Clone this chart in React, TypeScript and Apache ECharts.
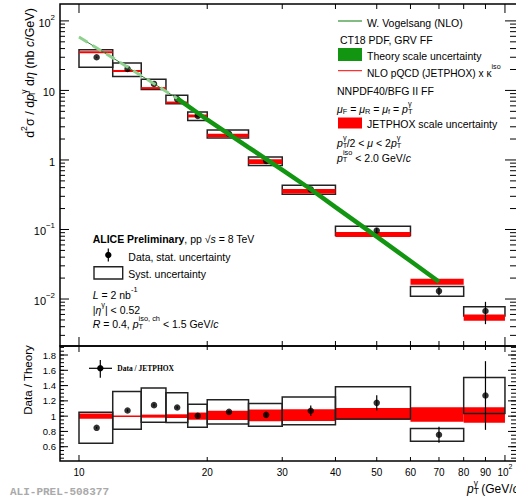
import React, { useEffect, useRef } from "react";
import * as echarts from "echarts";

// ---------- data ----------
const binLow = [10, 12, 14, 16, 18, 20, 25, 30, 40, 60, 80];
const binHigh = [12, 14, 16, 18, 20, 25, 30, 40, 60, 80, 100];
const binCenter = [11, 13, 15, 17, 19, 22.5, 27.5, 35, 50, 70, 90];
const dataValues = [30, 20.4, 12.4, 7.5, 4.31, 2.38, 0.97, 0.377, 0.0968, 0.013, 0.00673];
const statRelErr = [0.015, 0.015, 0.015, 0.015, 0.015, 0.02, 0.03, 0.064, 0.085, 0.139, 0.354];
const sysRelTop = [0.28, 0.22, 0.17, 0.14, 0.14, 0.13, 0.14, 0.15, 0.15, 0.16, 0.15];
const jetphoxValues = [35.3, 19.1, 10.8, 6.7, 4.3, 2.25, 0.95, 0.356, 0.085, 0.0178, 0.00542];
const jetphoxRelErr = [0.033, 0.01, 0.02, 0.024, 0.047, 0.06, 0.078, 0.078, 0.08, 0.096, 0.103];
const ratioValues = [0.847, 1.074, 1.144, 1.113, 1.004, 1.056, 1.017, 1.07, 1.174, 0.756, 1.27];
const sysRelRatio = [0.24, 0.23, 0.195, 0.175, 0.15, 0.15, 0.146, 0.17, 0.18, 0.11, 0.185];
const jetphoxRatioCenter = [1, 1, 1, 1, 1, 1.01, 1.01, 1.013, 1.028, 1.022, 1.015];
const theoryPt = [10, 12, 15, 17, 20, 25, 30, 35, 40, 50, 60, 70];
const theoryValues = [58.7, 29.4, 12.5, 7.67, 3.79, 1.52, 0.721, 0.379, 0.21, 0.0788, 0.0352, 0.0177];

// ---------- axes / ticks ----------
const xTickValues = [10, 20, 30, 40, 50, 60, 70, 80, 90, 100];
const xMajorTicks = [10, 100];
const xTickLabels = ["{n|10}", "{n|20}", "{n|30}", "{n|40}", "{n|50}", "{n|60}", "{n|70}", "{n|80}", "{n|90}", "{n|10}{sup|2}"];
const topYMajorTicks = [0.01, 0.1, 1, 10, 100];
const ratioTickValues = [0.6, 0.8, 1, 1.2, 1.4, 1.6, 1.8];
const ratioTickLabels = ["0.6", "0.8", "1", "1.2", "1.4", "1.6", "1.8"];

const X_MIN = 9.024;
const X_MAX = 107.3;
const TOP_Y_MIN = 0.00211;
const TOP_Y_MAX = 175;
const RATIO_MIN = 0.413;
const RATIO_MAX = 1.918;

const topYMinorTicks: number[] = [];
for (let e = -3; e <= 2; e++) {
  for (let m = 2; m <= 9; m++) {
    const v = m * Math.pow(10, e);
    if (v > TOP_Y_MIN && v < TOP_Y_MAX) topYMinorTicks.push(v);
  }
}
const ratioMinorTicks: number[] = [];
for (let k = 9; k <= 38; k++) {
  const v = Math.round(k * 5) / 100;
  if (v > RATIO_MIN && v < RATIO_MAX) ratioMinorTicks.push(v);
}

const FONT = "'Liberation Sans', Arial, Helvetica, sans-serif";
const SERIF = "'Liberation Serif', 'Times New Roman', serif";

function richZ(size: number) {
  const sub = Math.round(size * 0.7 * 10) / 10;
  const lh = size + 4;
  return {
    n: { fontSize: size, fontFamily: FONT, lineHeight: lh, verticalAlign: "bottom", fill: "#000" },
    i: { fontSize: size, fontFamily: FONT, fontStyle: "italic", lineHeight: lh, verticalAlign: "bottom", fill: "#000" },
    b: { fontSize: size, fontFamily: FONT, fontWeight: "bold", lineHeight: lh, verticalAlign: "bottom", fill: "#000" },
    sup: { fontSize: sub, fontFamily: FONT, lineHeight: sub, verticalAlign: "top", fill: "#000" },
    sub: { fontSize: sub, fontFamily: FONT, lineHeight: sub, verticalAlign: "bottom", fill: "#000" },
    subz: { fontSize: sub, fontFamily: FONT, lineHeight: sub, verticalAlign: "bottom", fill: "#000", width: 0.1 },
  };
}

function richAxis(size: number) {
  const sub = Math.round(size * 0.72 * 10) / 10;
  return {
    n: { fontSize: size, fontFamily: FONT, lineHeight: size + 4, verticalAlign: "bottom", color: "#000" },
    sup: { fontSize: sub, fontFamily: FONT, lineHeight: sub, verticalAlign: "top", color: "#000" },
  };
}

function txt(x: number, y: number, text: string, size = 10.5, extra: any = {}) {
  return {
    type: "text",
    x,
    y,
    silent: true,
    ...extra,
    style: {
      text,
      font: `${size}px ${FONT}`,
      fill: "#000",
      textAlign: "left",
      align: "left",
      textVerticalAlign: "middle",
      verticalAlign: "middle",
      rich: richZ(size),
      ...(extra.style || {}),
    },
  };
}

function rectRender(fill: string, stroke: string, lw: number, minH: number) {
  return (params: any, api: any) => {
    const a = api.coord([api.value(0), api.value(2)]);
    const b = api.coord([api.value(1), api.value(3)]);
    let top = Math.min(a[1], b[1]);
    let h = Math.abs(a[1] - b[1]);
    if (h < minH) {
      top -= (minH - h) / 2;
      h = minH;
    }
    return {
      type: "rect",
      shape: { x: a[0], y: top, width: b[0] - a[0], height: h },
      style: { fill, stroke, lineWidth: lw },
    };
  };
}

function errRender(params: any, api: any) {
  const a = api.coord([api.value(0), api.value(1)]);
  const b = api.coord([api.value(0), api.value(2)]);
  return {
    type: "line",
    shape: { x1: a[0], y1: a[1], x2: b[0], y2: b[1] },
    style: { stroke: "#000", lineWidth: 1.2 },
  };
}

function topTicksRender(params: any, api: any) {
  const ch: any[] = [];
  const ln = (x1: number, y1: number, x2: number, y2: number) =>
    ch.push({ type: "line", shape: { x1, y1, x2, y2 }, style: { stroke: "#000", lineWidth: 1 } });
  const yB = api.coord([X_MIN, TOP_Y_MIN])[1];
  const yT = api.coord([X_MIN, TOP_Y_MAX])[1];
  const xL = api.coord([X_MIN, 1])[0];
  const xR = api.coord([X_MAX, 1])[0];
  xTickValues.forEach((v) => {
    const x = api.coord([v, 1])[0];
    const len = xMajorTicks.indexOf(v) >= 0 ? 9 : 5;
    ln(x, yB, x, yB - len);
    ln(x, yT, x, yT + len);
  });
  topYMinorTicks.forEach((v) => {
    const y = api.coord([10, v])[1];
    ln(xL, y, xL + 5, y);
    ln(xR, y, xR - 8, y);
  });
  topYMajorTicks.forEach((v) => {
    const y = api.coord([10, v])[1];
    ln(xL, y, xL + 9, y);
    ln(xR, y, xR - 13, y);
  });
  return { type: "group", children: ch };
}

function bottomTicksRender(params: any, api: any) {
  const ch: any[] = [];
  const ln = (x1: number, y1: number, x2: number, y2: number) =>
    ch.push({ type: "line", shape: { x1, y1, x2, y2 }, style: { stroke: "#000", lineWidth: 1 } });
  const yB = api.coord([X_MIN, RATIO_MIN])[1];
  const yT = api.coord([X_MIN, RATIO_MAX])[1];
  const xL = api.coord([X_MIN, 1])[0];
  const xR = api.coord([X_MAX, 1])[0];
  xTickValues.forEach((v, i) => {
    const x = api.coord([v, 1])[0];
    const len = xMajorTicks.indexOf(v) >= 0 ? 6 : 4;
    ln(x, yB, x, yB - len);
    ln(x, yT, x, yT + len);
    ch.push({
      type: "text",
      x,
      y: yB + 9,
      style: {
        text: xTickLabels[i],
        font: `10px ${FONT}`,
        fill: "#000",
        textAlign: "center",
        align: "center",
        textVerticalAlign: "middle",
        verticalAlign: "middle",
        rich: richZ(10),
      },
    });
  });
  ratioMinorTicks.forEach((v) => {
    const y = api.coord([10, v])[1];
    ln(xL, y, xL + 4, y);
    ln(xR, y, xR - 7, y);
  });
  ratioTickValues.forEach((v, i) => {
    const y = api.coord([10, v])[1];
    ln(xL, y, xL + 8, y);
    ln(xR, y, xR - 10, y);
    ch.push({
      type: "text",
      x: xL - 4,
      y,
      style: {
        text: ratioTickLabels[i],
        font: `9.5px ${FONT}`,
        fill: "#000",
        textAlign: "right",
        align: "right",
        textVerticalAlign: "middle",
        verticalAlign: "middle",
      },
    });
  });
  return { type: "group", children: ch };
}

function buildOption(): any {
  const topBoxes = binLow.map((lo, i) => [lo, binHigh[i], dataValues[i] * (1 - sysRelTop[i]), dataValues[i] * (1 + sysRelTop[i])]);
  const topJetphox = binLow.map((lo, i) => [lo, binHigh[i], jetphoxValues[i] * (1 - jetphoxRelErr[i]), jetphoxValues[i] * (1 + jetphoxRelErr[i])]);
  const topStat = binCenter.map((x, i) => [x, dataValues[i] * (1 - statRelErr[i]), dataValues[i] * (1 + statRelErr[i])]);
  const topPoints = binCenter.map((x, i) => [x, dataValues[i]]);
  const theoryLine = theoryPt.map((x, i) => [x, theoryValues[i]]);
  const bandLow = theoryLine.slice(0, 4);
  const bandHigh = theoryLine.slice(3);

  const ratioBoxes = binLow.map((lo, i) => [lo, binHigh[i], ratioValues[i] * (1 - sysRelRatio[i]), ratioValues[i] * (1 + sysRelRatio[i])]);
  const ratioBand = binLow.map((lo, i) => [lo, binHigh[i], jetphoxRatioCenter[i] - jetphoxRelErr[i], jetphoxRatioCenter[i] + jetphoxRelErr[i]]);
  const ratioStat = binCenter.map((x, i) => [x, ratioValues[i] * (1 - statRelErr[i]), ratioValues[i] * (1 + statRelErr[i])]);
  const ratioPoints = binCenter.map((x, i) => [x, ratioValues[i]]);

  const topLabelFormatter = (v: number) => {
    const lg = Math.log10(v);
    const n = Math.round(lg);
    if (Math.abs(lg - n) > 1e-6) return "";
    if (n === 0) return "{n|1}";
    if (n === 1) return "{n|10}";
    return "{n|10}{sup|" + (n < 0 ? "\u2212" + -n : String(n)) + "}";
  };

  const gridCommon = {
    left: 60,
    right: -2,
    show: true,
    borderColor: "#000",
    borderWidth: 1.5,
    backgroundColor: "transparent",
    containLabel: false,
    outerBoundsMode: "none",
  };

  const graphics: any[] = [
    // right legend
    { type: "line", silent: true, shape: { x1: 338, y1: 21, x2: 362, y2: 21 }, style: { stroke: "#2f8f2f", lineWidth: 1.2 } },
    txt(367, 21, "{n|W. Vogelsang (NLO)}"),
    txt(340, 38.5, "{n|CT18 PDF, GRV FF}"),
    { type: "rect", silent: true, shape: { x: 338, y: 48, width: 24, height: 13 }, style: { fill: "#129612" } },
    txt(367, 54.5, "{n|Theory scale uncertainty}"),
    { type: "line", silent: true, shape: { x1: 338, y1: 70.7, x2: 362, y2: 70.7 }, style: { stroke: "#ff0000", lineWidth: 1 } },
    txt(367, 71, "{n|NLO pQCD (JETPHOX) x \u03ba}{sup|iso}", 10.2),
    txt(337, 89.5, "{n|NNPDF40/BFG II FF}"),
    txt(337, 107.5, "{i|\u03bc}{sub|F}{n| = }{i|\u03bc}{sub|R}{n| = }{i|\u03bc}{sub|f}{n| = }{i|p}{subz|T}{sup|\u03b3}"),
    { type: "rect", silent: true, shape: { x: 338, y: 117.5, width: 24, height: 11 }, style: { fill: "#ff0000" } },
    txt(367, 122.5, "{n|JETPHOX scale uncertainty}"),
    txt(337, 141.5, "{i|p}{subz|T}{sup|\u03b3}{n|/2 < }{i|\u03bc}{n| < 2}{i|p}{subz|T}{sup|\u03b3}"),
    txt(337, 156, "{i|p}{subz|T}{sup|iso}{n| < 2.0 GeV/}{i|c}"),
    // left annotations
    txt(92.7, 237.7, "{b|ALICE Preliminary}{n|, pp \u221a}{i|s}{n| = 8 TeV}"),
    { type: "line", silent: true, shape: { x1: 108.3, y1: 248.5, x2: 108.3, y2: 261.5 }, style: { stroke: "#000", lineWidth: 1.2 } },
    { type: "circle", silent: true, shape: { cx: 108.3, cy: 255, r: 3.2 }, style: { fill: "#000" } },
    txt(128.3, 255, "{n|Data, stat. uncertainty}"),
    { type: "rect", silent: true, shape: { x: 94, y: 266.7, width: 28.7, height: 12.3 }, style: { fill: "none", stroke: "#222", lineWidth: 1.4 } },
    txt(128.3, 272, "{n|Syst. uncertainty}"),
    txt(92.7, 293.3, "{i|L}{n| = 2 nb}{sup|-1}"),
    txt(92.7, 308.3, "{n||}{i|\u03b7}{sup|\u03b3}{n|| < 0.52}"),
    txt(92.7, 322.7, "{i|R}{n| = 0.4, }{i|p}{subz|T}{sup|iso, ch}{n| < 1.5 GeV/}{i|c}"),
    // ratio legend
    { type: "line", silent: true, shape: { x1: 89, y1: 368.3, x2: 112, y2: 368.3 }, style: { stroke: "#000", lineWidth: 1.2 } },
    { type: "line", silent: true, shape: { x1: 100.3, y1: 360, x2: 100.3, y2: 377.7 }, style: { stroke: "#000", lineWidth: 1.2 } },
    { type: "circle", silent: true, shape: { cx: 100.3, cy: 368.3, r: 3.2 }, style: { fill: "#000" } },
    {
      type: "text",
      x: 117.3,
      y: 368.3,
      silent: true,
      style: { text: "Data / JETPHOX", font: `bold 7.5px ${SERIF}`, fill: "#000", textAlign: "left", align: "left", textVerticalAlign: "middle", verticalAlign: "middle" },
    },
    // axis titles
    txt(28, 73, "{n|d}{sup|2}{n|\u03c3 / d}{i|p}{subz|T}{sup|\u03b3}{n| d}{i|\u03b7}{n| (nb }{i|c}{n|/GeV)}", 12.5, {
      rotation: Math.PI / 2,
      style: { textAlign: "center", align: "center" },
    }),
    txt(26, 380, "{n|Data / Theory}", 11.5, { rotation: Math.PI / 2, style: { textAlign: "center", align: "center" } }),
    txt(467, 487, "{i|p}{subz|T}{sup|\u03b3}{n| (GeV/}{i|c}{n|)}", 12),
    {
      type: "text",
      x: 10,
      y: 492,
      silent: true,
      style: {
        text: "ALI-PREL-508377",
        font: `bold 11px 'Liberation Mono', 'DejaVu Sans Mono', monospace`,
        fill: "#aaaaaa",
        textAlign: "left",
        align: "left",
        textVerticalAlign: "middle",
        verticalAlign: "middle",
      },
    },
  ];

  return {
    animation: false,
    backgroundColor: "#ffffff",
    grid: [
      { ...gridCommon, top: 4, height: 342 },
      { ...gridCommon, top: 346, height: 115 },
    ],
    xAxis: [
      { type: "log", gridIndex: 0, logBase: 10, min: X_MIN, max: X_MAX, show: false },
      { type: "log", gridIndex: 1, logBase: 10, min: X_MIN, max: X_MAX, show: false },
    ],
    yAxis: [
      {
        type: "log",
        gridIndex: 0,
        logBase: 10,
        min: TOP_Y_MIN,
        max: TOP_Y_MAX,
        axisLine: { show: false },
        axisTick: { show: false },
        splitLine: { show: false },
        minorTick: { show: false },
        axisLabel: { show: true, margin: 5, formatter: topLabelFormatter, rich: richAxis(11), showMinLabel: true, showMaxLabel: true },
      },
      { type: "value", gridIndex: 1, min: RATIO_MIN, max: RATIO_MAX, show: false },
    ],
    series: [
      // ---- top panel ----
      { type: "custom", name: "syst", xAxisIndex: 0, yAxisIndex: 0, data: topBoxes, encode: { x: [0, 1], y: [2, 3] }, renderItem: rectRender("none", "#222", 1.5, 0), silent: true },
      { type: "custom", name: "jetphox", xAxisIndex: 0, yAxisIndex: 0, data: topJetphox, encode: { x: [0, 1], y: [2, 3] }, renderItem: rectRender("#ff0000", "none", 0, 2), silent: true },
      { type: "line", name: "vogelsang", xAxisIndex: 0, yAxisIndex: 0, data: theoryLine, showSymbol: false, symbol: "none", lineStyle: { color: "#2a8a2a", width: 1 }, silent: true },
      { type: "line", name: "bandLow", xAxisIndex: 0, yAxisIndex: 0, data: bandLow, symbol: "none", lineStyle: { color: "#8fd08f", width: 3, type: [10, 6] }, silent: true },
      { type: "line", name: "bandHigh", xAxisIndex: 0, yAxisIndex: 0, data: bandHigh, symbol: "none", lineStyle: { color: "#129612", width: 4.5 }, silent: true },
      { type: "custom", name: "stat", xAxisIndex: 0, yAxisIndex: 0, data: topStat, encode: { x: 0, y: [1, 2] }, renderItem: errRender, silent: true },
      { type: "scatter", name: "data", xAxisIndex: 0, yAxisIndex: 0, data: topPoints, symbol: "circle", symbolSize: 6.5, itemStyle: { color: "#000" }, silent: true },
      { type: "custom", name: "ticksTop", xAxisIndex: 0, yAxisIndex: 0, data: [[20, 1]], encode: { x: 0, y: 1 }, renderItem: topTicksRender, silent: true, z: 10 },
      // ---- ratio panel ----
      { type: "custom", name: "ratioBand", xAxisIndex: 1, yAxisIndex: 1, data: ratioBand, encode: { x: [0, 1], y: [2, 3] }, renderItem: rectRender("#ff0000", "none", 0, 1.5), silent: true },
      { type: "custom", name: "ratioSyst", xAxisIndex: 1, yAxisIndex: 1, data: ratioBoxes, encode: { x: [0, 1], y: [2, 3] }, renderItem: rectRender("none", "#222", 1.5, 0), silent: true },
      { type: "custom", name: "ratioStat", xAxisIndex: 1, yAxisIndex: 1, data: ratioStat, encode: { x: 0, y: [1, 2] }, renderItem: errRender, silent: true },
      { type: "scatter", name: "ratio", xAxisIndex: 1, yAxisIndex: 1, data: ratioPoints, symbol: "circle", symbolSize: 6.5, itemStyle: { color: "#000" }, silent: true },
      { type: "custom", name: "ticksBottom", xAxisIndex: 1, yAxisIndex: 1, data: [[20, 1]], encode: { x: 0, y: 1 }, renderItem: bottomTicksRender, silent: true, z: 10 },
    ],
    graphic: { elements: graphics },
  };
}

export default function App() {
  const ref = useRef<HTMLDivElement>(null);
  useEffect(() => {
    if (!ref.current) return;
    const chart = echarts.init(ref.current, null, { renderer: "svg" });
    chart.setOption(buildOption());
    return () => chart.dispose();
  }, []);
  return (
    <div
      ref={ref}
      style={{ position: "absolute", left: 0, top: 0, width: 516, height: 501, overflow: "hidden", background: "#fff" }}
    />
  );
}
